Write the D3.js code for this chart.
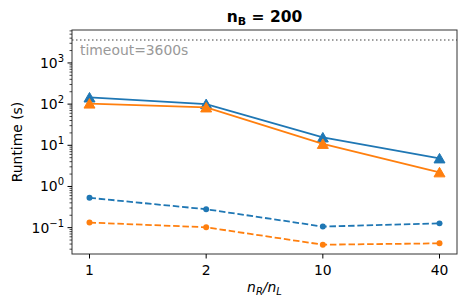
<!DOCTYPE html>
<html>
<head>
<meta charset="utf-8">
<script src="https://cdn.jsdelivr.net/npm/d3@7"></script>
<style>
  body { margin: 0; background: #fff; }
  text { font-family: "DejaVu Sans", sans-serif; }
</style>
</head>
<body>
<div id="chart"></div>
<script>
const categories = ["1", "2", "10", "40"];
const blueSolid = [145, 100, 15.5, 4.8];
const orangeSolid = [103, 83, 10.8, 2.2];
const blueDashed = [0.53, 0.28, 0.106, 0.127];
const orangeDashed = [0.133, 0.102, 0.0385, 0.0416];
const yTicks = [-1, 0, 1, 2, 3];
const timeout = 3600;

const series = [
  { values: blueSolid, color: "#1f77b4", dashed: false, marker: "triangle" },
  { values: blueDashed, color: "#1f77b4", dashed: true, marker: "circle" },
  { values: orangeSolid, color: "#ff7f0e", dashed: false, marker: "triangle" },
  { values: orangeDashed, color: "#ff7f0e", dashed: true, marker: "circle" }
];

const width = 471;
const height = 308;
const margin = { top: 30, right: 14, bottom: 54, left: 72 };

const svg = d3.select("#chart")
  .append("svg")
  .attr("width", width)
  .attr("height", height);

const x = d3.scaleLinear()
  .domain([-0.15, categories.length - 1 + 0.15])
  .range([margin.left, width - margin.right]);

const y = d3.scaleLog()
  .domain([Math.pow(10, -1.64), Math.pow(10, 3.8)])
  .range([height - margin.bottom, margin.top]);

// matplotlib-like "^" marker, centred on its bounding box
const triangleUp = {
  draw(ctx, size) {
    const h = Math.sqrt(size) / 2;
    ctx.moveTo(0, -h);
    ctx.lineTo(h * 1.1, h * 0.9);
    ctx.lineTo(-h * 1.1, h * 0.9);
    ctx.closePath();
  }
};

// timeout line
svg.append("line")
  .attr("x1", margin.left)
  .attr("x2", width - margin.right)
  .attr("y1", y(timeout))
  .attr("y2", y(timeout))
  .attr("stroke", "#808080")
  .attr("stroke-width", 1.5)
  .attr("stroke-dasharray", "1.5,2.5");

svg.append("text")
  .attr("x", margin.left + 8)
  .attr("y", y(timeout) + 15)
  .attr("fill", "#999")
  .style("font-size", "13.9px")
  .text("timeout=3600s");

const line = d3.line()
  .x((d, i) => x(i))
  .y(d => y(d));

series.forEach(s => {
  svg.append("path")
    .datum(s.values)
    .attr("d", line)
    .attr("fill", "none")
    .attr("stroke", s.color)
    .attr("stroke-width", 1.8)
    .attr("stroke-dasharray", s.dashed ? "6.5,2.8" : null);

  const sym = d3.symbol()
    .type(s.marker === "triangle" ? triangleUp : d3.symbolCircle)
    .size(s.marker === "triangle" ? 100 : 28);

  svg.selectAll(null)
    .data(s.values)
    .enter()
    .append("path")
    .attr("d", sym)
    .attr("transform", (d, i) => `translate(${x(i)},${y(d)})`)
    .attr("fill", s.color)
    .attr("stroke", s.color)
    .attr("stroke-width", s.marker === "triangle" ? 1 : 0)
    .attr("stroke-linejoin", "miter");
});

// frame
svg.append("rect")
  .attr("x", margin.left)
  .attr("y", margin.top)
  .attr("width", width - margin.left - margin.right)
  .attr("height", height - margin.top - margin.bottom)
  .attr("fill", "none")
  .attr("stroke", "#333")
  .attr("stroke-width", 1);

// x axis
const xAxis = svg.append("g");
categories.forEach((c, i) => {
  xAxis.append("line")
    .attr("x1", x(i)).attr("x2", x(i))
    .attr("y1", height - margin.bottom)
    .attr("y2", height - margin.bottom + 4.5)
    .attr("stroke", "#000");
  xAxis.append("text")
    .attr("x", x(i))
    .attr("y", height - margin.bottom + 21)
    .attr("text-anchor", "middle")
    .style("font-size", "13.9px")
    .text(c);
});

// y axis
const yAxis = svg.append("g");
const [lo, hi] = y.domain().map(Math.log10);
for (let e = Math.floor(lo); e <= Math.ceil(hi); e++) {
  for (let m = 1; m < 10; m++) {
    const v = m * Math.pow(10, e);
    const lv = Math.log10(v);
    if (lv < lo || lv > hi) continue;
    yAxis.append("line")
      .attr("x1", margin.left - (m === 1 ? 4.5 : 2.5))
      .attr("x2", margin.left)
      .attr("y1", y(v)).attr("y2", y(v))
      .attr("stroke", "#000")
      .attr("stroke-width", m === 1 ? 1 : 0.7);
  }
}
yTicks.forEach(e => {
  const t = yAxis.append("text")
    .attr("x", margin.left - 8)
    .attr("y", y(Math.pow(10, e)) + 5)
    .attr("text-anchor", "end")
    .style("font-size", "13.9px");
  t.append("tspan").text("10");
  t.append("tspan")
    .attr("dy", -6)
    .style("font-size", "10px")
    .text(e < 0 ? "\u2212" + Math.abs(e) : e);
});

svg.append("text")
  .attr("transform", `translate(${22},${(margin.top + height - margin.bottom) / 2}) rotate(-90)`)
  .attr("text-anchor", "middle")
  .style("font-size", "13.9px")
  .text("Runtime (s)");

const xl = svg.append("text")
  .attr("x", (margin.left + width - margin.right) / 2)
  .attr("y", height - 16)
  .attr("text-anchor", "middle")
  .style("font-size", "13.9px")
  .style("font-style", "italic");
xl.append("tspan").text("n");
xl.append("tspan").attr("dy", 3).style("font-size", "10px").text("R");
xl.append("tspan").attr("dy", -3).text("/n");
xl.append("tspan").attr("dy", 3).style("font-size", "10px").text("L");

const title = svg.append("text")
  .attr("x", (margin.left + width - margin.right) / 2)
  .attr("y", 22)
  .attr("text-anchor", "middle")
  .style("font-size", "15.5px")
  .style("font-weight", "bold");
title.append("tspan").text("n");
title.append("tspan").attr("dy", 3).style("font-size", "11px").text("B");
title.append("tspan").attr("dy", -3).text(" = 200");
</script>
</body>
</html>
